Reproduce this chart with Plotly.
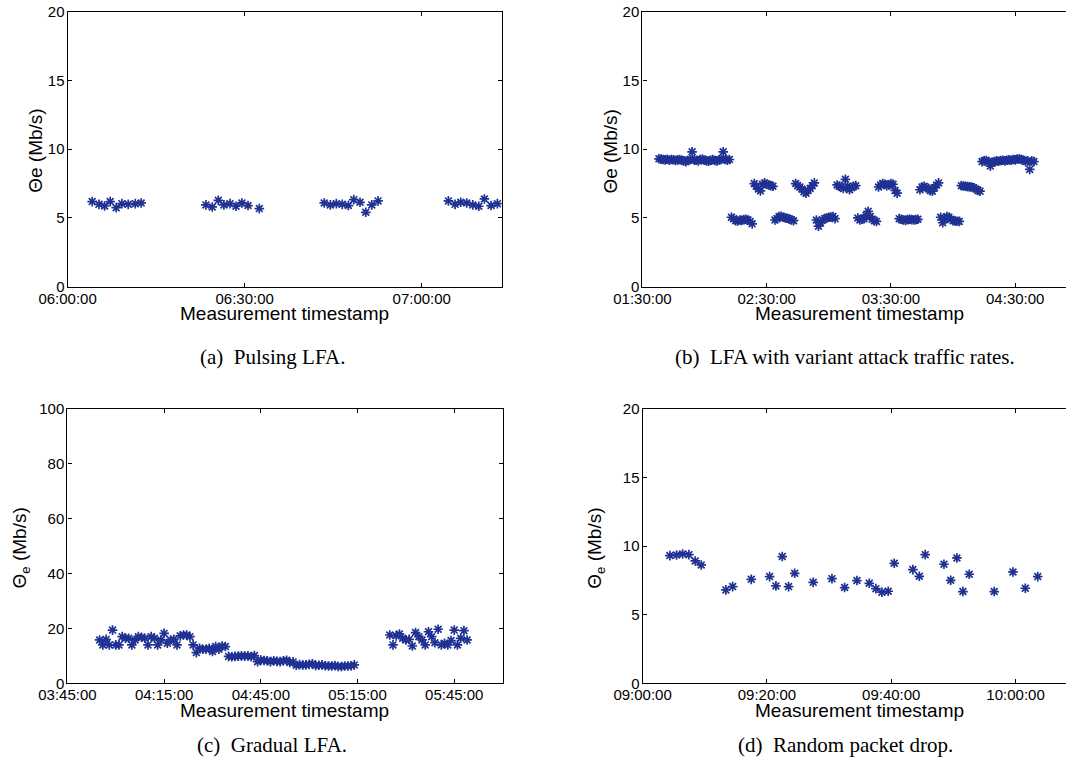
import plotly.graph_objects as go

DATE = "2014-03-01 "
BLUE = "#1f3192"

# ---------------- (a) Pulsing LFA ----------------
a_times = ["06:04:10", "06:05:19", "06:06:16", "06:07:13", "06:08:14", "06:09:12", "06:10:16", "06:11:28", "06:12:28",
           "06:23:26", "06:24:30", "06:25:32", "06:26:29", "06:27:31", "06:28:32", "06:29:32", "06:30:34", "06:32:29",
           "06:43:29", "06:44:31", "06:45:32", "06:46:32", "06:47:34", "06:48:29", "06:49:33", "06:50:31", "06:51:32", "06:52:36",
           "07:04:31", "07:05:39", "07:06:37", "07:07:38", "07:08:39", "07:09:40", "07:10:37", "07:11:45", "07:12:49"]
a_vals = [6.19, 5.99, 5.87, 6.19, 5.75, 6.04, 5.99, 6.04, 6.09,
          5.95, 5.80, 6.28, 5.95, 6.04, 5.85, 6.09, 5.90, 5.68,
          6.09, 5.95, 6.04, 5.99, 5.90, 6.33, 6.14, 5.41, 5.95, 6.24,
          6.24, 5.99, 6.14, 6.09, 5.95, 5.85, 6.38, 5.90, 6.04]
a_ticks = ["06:00:00", "06:30:00", "07:00:00"]
a_range = ["06:00:00", "07:13:34"]

# ---------------- (b) LFA with variant attack traffic rates ----------------
b_times = [
    "01:38", "01:39", "01:40", "01:41", "01:42", "01:43", "01:44", "01:45", "01:46", "01:47", "01:48", "01:49",
    "01:50", "01:51", "01:52", "01:53", "01:54", "01:55", "01:56", "01:57", "01:58", "01:59",
    "02:00", "02:01", "02:02", "02:03", "02:04", "02:05", "02:06", "02:07", "02:08", "02:09",
    "02:10", "02:11", "02:12", "02:13", "02:14", "02:15", "02:16", "02:17", "02:18", "02:19",
    "02:20", "02:21", "02:22", "02:23", "02:24", "02:25", "02:26", "02:27", "02:28", "02:29",
    "02:30", "02:31", "02:32", "02:33", "02:34", "02:35", "02:36", "02:37", "02:38", "02:39",
    "02:40", "02:41", "02:42", "02:43", "02:44", "02:45", "02:46", "02:47", "02:48", "02:49",
    "02:50", "02:51", "02:52", "02:53", "02:54", "02:55", "02:56", "02:57", "02:58", "02:59",
    "03:00", "03:01", "03:02", "03:03", "03:04", "03:05", "03:06", "03:07", "03:08", "03:09",
    "03:10", "03:11", "03:12", "03:13", "03:14", "03:15", "03:16", "03:17", "03:18", "03:19",
    "03:20", "03:21", "03:22", "03:23", "03:24", "03:25", "03:26", "03:27", "03:28", "03:29",
    "03:30", "03:31", "03:32", "03:33", "03:34", "03:35", "03:36", "03:37", "03:38", "03:39",
    "03:40", "03:41", "03:42", "03:43", "03:44", "03:45", "03:46", "03:47", "03:48", "03:49",
    "03:50", "03:51", "03:52", "03:53", "03:54", "03:55", "03:56", "03:57", "03:58", "03:59",
    "04:00", "04:01", "04:02", "04:03", "04:04", "04:05", "04:06", "04:07", "04:08", "04:09",
    "04:10", "04:11", "04:12", "04:13", "04:14", "04:15", "04:16", "04:17", "04:18", "04:19",
    "04:20", "04:21", "04:22", "04:23", "04:24", "04:25", "04:26", "04:27", "04:28", "04:29",
    "04:30", "04:31", "04:32", "04:33", "04:34", "04:35", "04:36", "04:37", "04:38", "04:39"]
b_vals = [
    9.30, 9.28, 9.25, 9.22, 9.27, 9.20, 9.25, 9.23, 9.18, 9.22, 9.25, 9.20, 9.15, 9.10, 9.18, 9.25, 9.81, 9.22,
    9.20, 9.15, 9.25, 9.28, 9.20, 9.15, 9.12, 9.20, 9.25, 9.18, 9.15, 9.22, 9.25, 9.81, 9.25, 9.20, 9.25,
    5.05, 4.95, 4.80, 4.78, 4.85, 4.82, 4.88, 4.90, 4.85, 4.75, 4.57,
    7.50, 7.30, 7.10, 6.97, 7.45, 7.55, 7.45, 7.40, 7.35, 7.30,
    4.85, 4.95, 5.10, 5.12, 5.05, 5.00, 4.98, 4.92, 4.85, 4.80,
    7.50, 7.35, 7.25, 7.10, 6.90, 6.80, 7.00, 7.15, 7.35, 7.55,
    4.85, 4.40, 4.65, 4.85, 4.95, 5.00, 5.05, 5.07, 5.10, 4.95,
    7.40, 7.30, 7.25, 7.15, 7.81, 7.30, 7.05, 7.20, 7.30, 7.35,
    5.00, 4.85, 4.90, 4.95, 5.20, 5.48, 5.10, 4.90, 4.80, 4.75,
    7.25, 7.40, 7.50, 7.45, 7.35, 7.40, 7.50, 7.45, 7.00, 6.80,
    4.95, 4.90, 4.85, 4.82, 4.88, 4.90, 4.88, 4.85, 4.88, 4.90,
    7.05, 7.25, 7.30, 7.20, 7.15, 7.00, 6.95, 7.20, 7.40, 7.55,
    5.05, 4.65, 4.90, 5.10, 5.05, 4.90, 4.80, 4.78, 4.76, 4.75,
    7.35, 7.32, 7.30, 7.28, 7.26, 7.25, 7.20, 7.10, 7.00, 6.95,
    9.10, 9.15, 9.18, 9.10, 8.77, 9.05, 9.10, 9.15, 9.12, 9.18, 9.20, 9.15, 9.20,
    9.22, 9.20, 9.25, 9.22, 9.28, 9.30, 9.25, 9.20, 9.10, 9.15, 8.53, 9.15, 9.10]
b_ticks = ["01:30:00", "02:30:00", "03:30:00", "04:30:00"]
b_range = ["01:30:00", "04:54:31"]

# ---------------- (c) Gradual LFA ----------------
c_times = [
    "03:55", "03:56", "03:57", "03:58", "03:59",
    "04:00", "04:01", "04:02", "04:03", "04:04", "04:05", "04:06", "04:07", "04:08", "04:09",
    "04:10", "04:11", "04:12", "04:13", "04:14", "04:15", "04:16", "04:17", "04:18", "04:19",
    "04:20", "04:21", "04:22", "04:23", "04:24", "04:25", "04:26", "04:27", "04:28", "04:29",
    "04:30", "04:31", "04:32", "04:33", "04:34", "04:35", "04:36", "04:37", "04:38", "04:39",
    "04:40", "04:41", "04:42", "04:43", "04:44", "04:45", "04:46", "04:47", "04:48", "04:49",
    "04:50", "04:51", "04:52", "04:53", "04:54", "04:55", "04:56", "04:57", "04:58", "04:59",
    "05:00", "05:01", "05:02", "05:03", "05:04", "05:05", "05:06", "05:07", "05:08", "05:09",
    "05:10", "05:11", "05:12", "05:13", "05:14",
    "05:25", "05:26", "05:27", "05:28", "05:29", "05:30", "05:31", "05:32", "05:33", "05:34",
    "05:35", "05:36", "05:37", "05:38", "05:39", "05:40", "05:41", "05:42", "05:43", "05:44",
    "05:45", "05:46", "05:47", "05:48", "05:49"]
c_vals = [
    15.8, 14.0, 16.0, 14.0, 19.4, 14.0, 14.0, 17.0, 16.4, 16.4,
    14.0, 15.8, 17.0, 16.8, 16.4, 14.0, 17.0, 16.4, 14.0, 15.8,
    18.2, 14.6, 15.8, 16.0, 14.0, 17.3, 17.6, 17.6, 17.0, 14.0,
    11.2, 12.8, 12.4, 12.4, 12.8, 11.6, 13.4, 12.4, 13.6, 13.4,
    9.8, 9.7, 9.8, 9.9, 10.0, 9.9, 10.0, 9.7, 10.1, 7.9,
    8.5, 8.3, 8.2, 7.9, 8.2, 8.0, 7.9, 8.2, 8.4, 7.6,
    7.8, 6.6, 6.8, 6.7, 6.7, 6.9, 7.1, 6.5, 6.6, 6.7,
    6.4, 6.3, 6.3, 6.5, 6.1, 6.1, 6.3, 6.3, 6.4, 6.7,
    17.6, 14.0, 17.3, 18.0, 16.4, 15.8, 16.0, 13.6, 18.5, 17.0,
    15.8, 14.0, 18.8, 17.0, 14.8, 19.7, 14.0, 14.6, 14.0, 15.6,
    19.4, 14.0, 16.4, 19.2, 15.8]
c_ticks = ["03:45:00", "04:15:00", "04:45:00", "05:15:00", "05:45:00"]
c_range = ["03:45:00", "06:00:00"]

# ---------------- (d) Random packet drop ----------------
d_times = ["09:04:23", "09:05:28", "09:06:26", "09:07:27", "09:08:28", "09:09:26", "09:13:24", "09:14:29",
           "09:17:29", "09:20:26", "09:21:27", "09:22:28", "09:23:29", "09:24:28", "09:27:27", "09:30:28",
           "09:32:30", "09:34:29", "09:36:28", "09:37:32", "09:38:30", "09:39:31", "09:40:29", "09:43:29",
           "09:44:31", "09:45:28", "09:48:29", "09:49:34", "09:50:34", "09:51:32", "09:52:33", "09:56:34",
           "09:59:35", "10:01:34", "10:03:34"]
d_vals = [9.31, 9.36, 9.43, 9.38, 8.92, 8.63, 6.81, 7.05,
          7.58, 7.78, 7.10, 9.24, 7.05, 8.02, 7.36, 7.63,
          6.98, 7.49, 7.29, 6.90, 6.64, 6.71, 8.75, 8.29,
          7.80, 9.38, 8.68, 7.51, 9.14, 6.69, 7.95, 6.69,
          8.12, 6.93, 7.78]
d_ticks = ["09:00:00", "09:20:00", "09:40:00", "10:00:00"]
d_range = ["09:00:00", "10:08:07"]

captions = ["(a)  Pulsing LFA.", "(b)  LFA with variant attack traffic rates.",
            "(c)  Gradual LFA.", "(d)  Random packet drop."]
y_titles = ["\u0398e (Mb/s)", "\u0398e (Mb/s)", "\u0398<sub>e</sub> (Mb/s)", "\u0398<sub>e</sub> (Mb/s)"]
x_title = "Measurement timestamp"
y_ranges = [[0, 20], [0, 20], [0, 100], [0, 20]]
y_dticks = [5, 5, 20, 5]


def full(t):
    return DATE + (t if t.count(":") == 2 else t + ":00")


W, H = 1066, 766
SANS = "Liberation Sans, Arial, sans-serif"


def fx(px):
    return min(max(px / W, 0.0), 1.0)


def fy(py):
    return min(max(1 - py / H, 0.0), 1.0)


# geometry in window pixels
panels = [
    dict(t=a_times, v=a_vals, ticks=a_ticks, rng=a_range, x0=67.6, x1=501.8, ytop=11.7, ybot=286.7, ymirror=True),
    dict(t=b_times, v=b_vals, ticks=b_ticks, rng=b_range, x0=642.4, x1=1066, ytop=11.7, ybot=286.7, ymirror=False),
    dict(t=c_times, v=c_vals, ticks=c_ticks, rng=c_range, x0=67.4, x1=502.6, ytop=409.0, ybot=683.3, ymirror=True),
    dict(t=d_times, v=d_vals, ticks=d_ticks, rng=d_range, x0=642.6, x1=1066, ytop=409.0, ybot=683.3, ymirror=False),
]

fig = go.Figure()
layout = dict(width=W, height=H, margin=dict(l=0, r=0, t=0, b=0, autoexpand=False),
              template="none",
              paper_bgcolor="white", plot_bgcolor="white", showlegend=False,
              font=dict(family=SANS, size=15, color="black"))
annotations = []
axis_font = dict(family=SANS, size=15, color="black")

for i, p in enumerate(panels):
    n = "" if i == 0 else str(i + 1)
    fig.add_trace(go.Scatter(
        x=[full(t) for t in p["t"]], y=p["v"], mode="markers",
        xaxis="x" + n, yaxis="y" + n,
        marker=dict(symbol="asterisk", size=8, color=BLUE, line=dict(color=BLUE, width=1.7)),
        hoverinfo="x+y"))
    layout["xaxis" + n] = dict(
        domain=[fx(p["x0"]), fx(p["x1"])], anchor="y" + n, type="date",
        range=[full(p["rng"][0]), full(p["rng"][1])], automargin=False,
        tickvals=[full(t) for t in p["ticks"]], ticktext=p["ticks"],
        showline=True, linecolor="black", linewidth=1.2, mirror="ticks",
        ticks="inside", ticklen=4, tickcolor="black", tickwidth=1,
        showgrid=False, zeroline=False, tickfont=axis_font, ticklabelstandoff=-2,
        ticklabeloverflow="allow")
    layout["yaxis" + n] = dict(
        domain=[fy(p["ybot"]), fy(p["ytop"])], anchor="x" + n,
        range=y_ranges[i], dtick=y_dticks[i], tick0=0, automargin=False,
        showline=True, linecolor="black", linewidth=1.2,
        mirror="ticks" if p["ymirror"] else False,
        ticks="inside", ticklen=4, tickcolor="black", tickwidth=1,
        showgrid=False, zeroline=False, tickfont=axis_font, ticklabelstandoff=-1,
        ticklabeloverflow="allow")
    cx = p["x0"] + 434.2 / 2
    # x-axis title
    annotations.append(dict(text=x_title, x=fx(cx), y=fy(p["ybot"] + 27), xref="paper", yref="paper",
                            xanchor="center", yanchor="middle", showarrow=False,
                            font=dict(family=SANS, size=19, color="black")))
    # y-axis title
    ty = (p["ytop"] + p["ybot"]) / 2 + 2
    tx = p["x0"] - (32 if i < 2 else 46)
    annotations.append(dict(text=y_titles[i], x=fx(tx), y=fy(ty), xref="paper", yref="paper",
                            xanchor="center", yanchor="middle", textangle=-90, showarrow=False,
                            font=dict(family=SANS, size=19, color="black")))

cap_pos = [(272, 357), (845, 357), (272, 745), (845, 745)]
for (cx, cy), txt in zip(cap_pos, captions):
    annotations.append(dict(text=txt, x=fx(cx), y=fy(cy), xref="paper", yref="paper",
                            xanchor="center", yanchor="middle", showarrow=False,
                            font=dict(family="Liberation Serif, Times New Roman, serif", size=21, color="black")))

layout["annotations"] = annotations
fig.update_layout(**layout)
# remove the default 8px page margin so the figure fills the 1066x766 window exactly
fig.write_html("out.html", config={"displayModeBar": False},
               post_script="document.body.style.margin='0';document.body.style.overflow='hidden';")
